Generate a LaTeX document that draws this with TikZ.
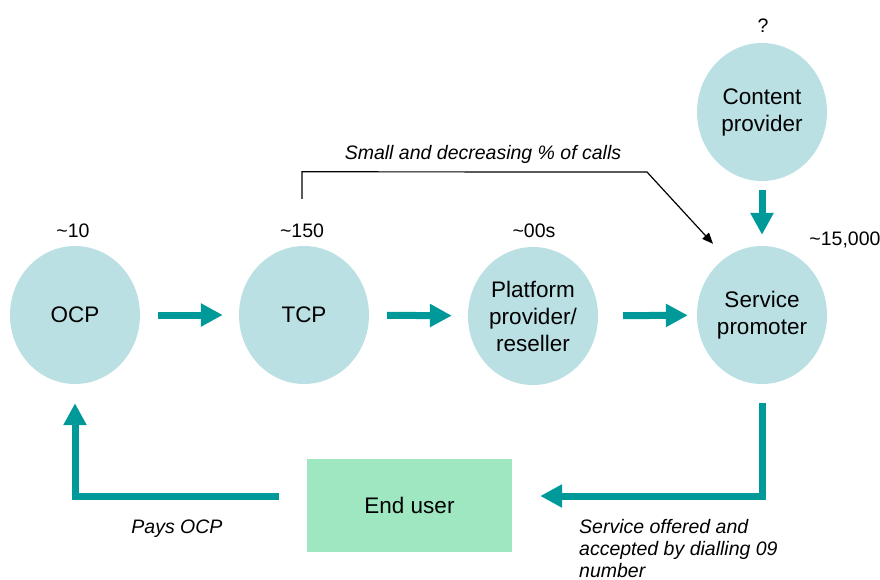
\documentclass[tikz,border=0pt]{standalone}
\usepackage{fontspec}
\setmainfont{Liberation Sans}
\usetikzlibrary{arrows.meta,shapes.geometric,calc}
\definecolor{bubble}{RGB}{186,224,227}
\definecolor{flow}{RGB}{0,153,153}
\definecolor{userbox}{RGB}{158,231,193}

\begin{document}
\begin{tikzpicture}[x=1pt,y=-1pt,
  actor/.style={ellipse, fill=bubble, minimum width=130pt, minimum height=138pt,
    inner sep=0pt, align=center, font=\fontsize{22.5}{27}\selectfont},
  count/.style={anchor=base, inner sep=0pt, font=\fontsize{19.5}{22}\selectfont},
  note/.style={inner sep=0pt, align=left, font=\fontsize{19.5}{22}\selectfont\itshape},
  flowarrow/.style={draw=flow, line width=7pt, -{Triangle[length=22pt,width=22pt]}},
  thinarrow/.style={draw=black, line width=1.2pt, -{Triangle[length=11pt,width=9pt]}}
]
\useasboundingbox (0,0) rectangle (880,579);

% participants in the value chain
\node[actor] (ocp) at (75,315) {OCP};
\node[actor] (tcp) at (304,315) {TCP};
\node[actor] (plat) at (533,316) {Platform\\provider/\\reseller};
\node[actor] (sp) at (762,315) {Service\\promoter};
\node[actor] (cp) at (762,112) {Content\\provider};
\node[fill=userbox, minimum width=205pt, minimum height=93pt, inner sep=0pt,
  font=\fontsize{22.5}{27}\selectfont] (eu) at (409.5,505.5) {End user};

% approximate numbers of each participant
\node[count] (nocp) at (73,237) {\textasciitilde10};
\node[count] (ntcp) at (302,237) {\textasciitilde150};
\node[count] (nplat) at (534,237) {\textasciitilde00s};
\node[count] (nsp) at (845,245) {\textasciitilde15,000};
\node[count] (ncp) at (763,32) {?};

% main flow of calls
\draw[flowarrow, shorten <=18pt, shorten >=16pt] (ocp) -- (tcp);
\draw[flowarrow, shorten <=18pt, shorten >=16pt] (tcp) -- (plat);
\draw[flowarrow, shorten <=25pt, shorten >=9pt] (plat) -- (sp);
\draw[flowarrow, shorten <=9pt, shorten >=11pt] (cp) -- (sp);

% service offered to the end user, who pays the OCP
\draw[flowarrow] ($(sp.south)+(0.5,19)$) |- ($(eu.east)+(28,-9.5)$);
\draw[flowarrow] ($(eu.west)+(-28,-9.5)$) -| ($(ocp.south)+(0,19)$);

% direct route from TCP to the service promoter
\coordinate (rise) at ($(tcp.north)+(-2,-47)$);
\coordinate (bend) at (647,172);
\draw[thinarrow] (rise) -- ++(0,-27) -- (bend) -- ($(sp.north)+(-49,-2)$);

% notes
\node[note, anchor=base] (nsmall) at (483,159) {Small and decreasing \% of calls};
\node[note, anchor=base] (npays) at (177,533) {Pays OCP};
\node[note, anchor=north west] (noffer) at (579,519)
  {Service offered and\\accepted by dialling 09\\number};
\end{tikzpicture}
\end{document}
